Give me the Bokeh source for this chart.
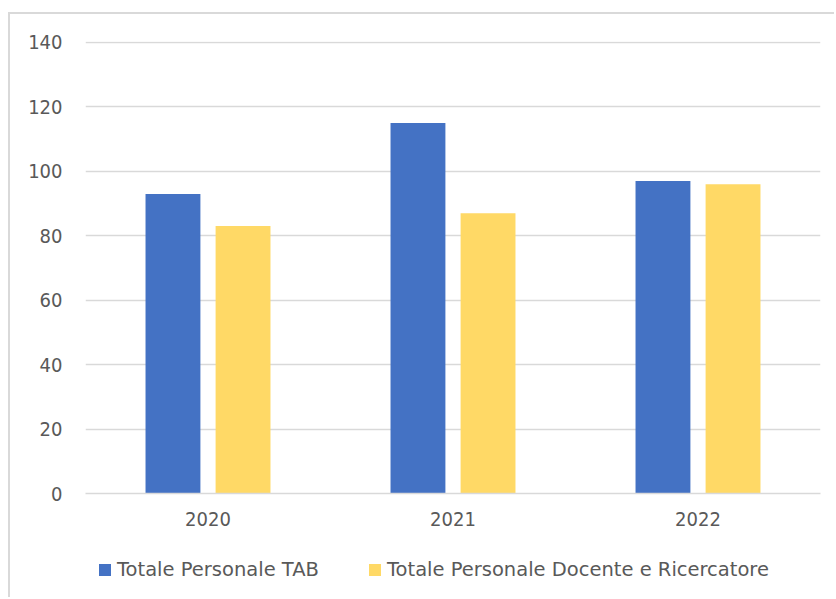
from bokeh.plotting import figure
from bokeh.layouts import column
from bokeh.models import ColumnDataSource, FactorRange, Range1d, Legend, LegendItem, FixedTicker
from bokeh.transform import dodge
from bokeh.embed import file_html
from bokeh.resources import INLINE

years = ["2020", "2021", "2022"]
tab = [93, 115, 97]
docenti = [83, 87, 96]
series_names = ["Totale Personale TAB", "Totale Personale Docente e Ricercatore"]
series_colors = ["#4472C4", "#FFD966"]
y_ticks = [0, 20, 40, 60, 80, 100, 120, 140]

FONT = "DejaVu Sans Condensed"
LFONT = "DejaVu Sans"
TXT = "#595959"
GRID = "#d9d9d9"

src = ColumnDataSource(dict(year=years, tab=tab, docenti=docenti))

p = figure(
    x_range=FactorRange(*years, range_padding=0),
    y_range=Range1d(0, 140.3),
    width=826, height=521,
    output_backend="svg", toolbar_location=None,
    min_border_left=75, min_border_right=16, min_border_top=27, min_border_bottom=42,
    styles={"margin-left": "8px", "margin-top": "12px",
            "border-left": "2px solid #d9d9d9", "border-top": "2px solid #d9d9d9"},
)
p.outline_line_color = None

p.vbar(x=dodge("year", -0.143, range=p.x_range), top="tab", width=0.224,
       source=src, fill_color=series_colors[0], line_color=None)
p.vbar(x=dodge("year", 0.143, range=p.x_range), top="docenti", width=0.224,
       source=src, fill_color=series_colors[1], line_color=None)

p.xgrid.grid_line_color = None
p.ygrid.grid_line_color = GRID
p.ygrid.grid_line_width = 1.5
p.yaxis.ticker = FixedTicker(ticks=y_ticks)

p.yaxis.axis_line_color = None
p.xaxis.axis_line_color = GRID
p.xaxis.axis_line_width = 1.5
for ax in (p.xaxis, p.yaxis):
    ax.major_tick_line_color = None
    ax.minor_tick_line_color = None
    ax.major_tick_out = 0
    ax.major_tick_in = 0
    ax.major_label_text_font = FONT
    ax.major_label_text_font_size = "20px"
    ax.major_label_text_color = TXT
p.yaxis.major_label_standoff = 23
p.xaxis.major_label_standoff = 18

# legend strip (its frame is aligned with the main frame by the column layout)
q = figure(
    x_range=Range1d(0, 1), y_range=Range1d(0, 1),
    width=826, height=64,
    output_backend="svg", toolbar_location=None,
    x_axis_type=None, y_axis_type=None,
    min_border_left=0, min_border_right=0, min_border_top=0, min_border_bottom=0,
    styles={"margin-left": "8px", "border-left": "2px solid #d9d9d9"},
)
q.outline_line_color = None
q.xgrid.grid_line_color = None
q.ygrid.grid_line_color = None
# legend proxies: one row each, placed outside the visible range
proxy = ColumnDataSource(dict(x=[-5], top=[0]))
l1 = q.vbar(x="x", top="top", width=0.1, source=proxy, fill_color=series_colors[0], line_color=None)
l2 = q.vbar(x="x", top="top", width=0.1, source=proxy, fill_color=series_colors[1], line_color=None)

legend = Legend(
    items=[LegendItem(label=series_names[0], renderers=[l1], index=0),
           LegendItem(label=series_names[1], renderers=[l2], index=0)],
    orientation="horizontal", location=(12, 16),
    glyph_width=15, glyph_height=15, label_standoff=5, spacing=48,
    label_text_font=LFONT, label_text_font_size="19.5px", label_text_color=TXT,
    border_line_color=None, background_fill_alpha=0, padding=0, margin=0,
)
q.add_layout(legend, "center")

layout = column(p, q, spacing=0)
open("out.html", "w").write(file_html(layout, INLINE))
